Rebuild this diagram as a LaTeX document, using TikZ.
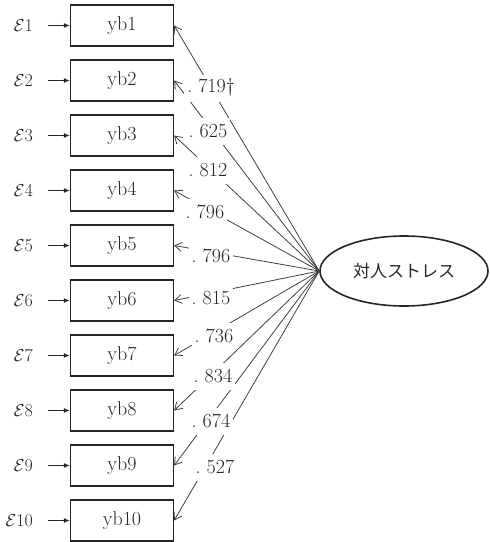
\documentclass[tikz,border=0pt]{standalone}
\usepackage{fontspec}
\newfontfamily\cjk{Noto Sans CJK JP}
\usetikzlibrary{shapes.geometric,arrows.meta}
\begin{document}
\begin{tikzpicture}[x=1pt,y=-1pt,
  every node/.style={font=\fontsize{20}{24}\selectfont, text=black!85},
  obs/.style={draw=black!85, line width=1.3pt, minimum width=103pt, minimum height=41pt, inner sep=0pt},
  errlbl/.style={anchor=east, inner sep=0pt, font=\fontsize{18}{22}\selectfont},
  errarr/.style={-{Latex[length=6pt,width=5pt]}, line width=1pt, draw=black!85, shorten <=15pt},
  load/.style={-{Straight Barb[length=7pt,width=9pt]}, line width=0.8pt, draw=black!75},
  coef/.style={fill=white, inner xsep=3pt, inner ysep=0pt, minimum height=27pt}]
\useasboundingbox (0,0) rectangle (490,542);
% latent factor
\node[ellipse, draw=black!85, line width=1.6pt, minimum width=168pt, minimum height=70pt, inner sep=0pt,
  font=\fontsize{17}{20}\selectfont] (F) at (404,271) {\cjk 対人ストレス};
% indicators, their error terms and loadings
\foreach \i/\yy in {1/25.5,2/80.5,3/135.5,4/190.5,5/245.5,6/300.5,7/355.5,8/410.5,9/465.5,10/520.5}{
  \node[obs] (y\i) at (122,\yy) {yb\i};
  \node[errlbl] (e\i) at (33,\yy) {$\mathcal{E}$\i};
  \draw[errarr] (e\i.east) -- (y\i.west);
  \draw[load] (F.west) -- (y\i.east);
}
% standardized loadings
\node[coef] (c1) at (211,88) {.\ 719\textdagger};
\node[coef] (c2) at (208,131) {.\ 625};
\node[coef] (c3) at (208,170) {.\ 812};
\node[coef] (c4) at (205,212) {.\ 796};
\node[coef] (c5) at (211,256) {.\ 796};
\node[coef] (c6) at (211,298) {.\ 815};
\node[coef] (c7) at (214,336) {.\ 736};
\node[coef] (c8) at (213,376) {.\ 834};
\node[coef] (c9) at (211,421) {.\ 674};
\node[coef] (c10) at (215,467) {.\ 527};
\end{tikzpicture}
\end{document}
